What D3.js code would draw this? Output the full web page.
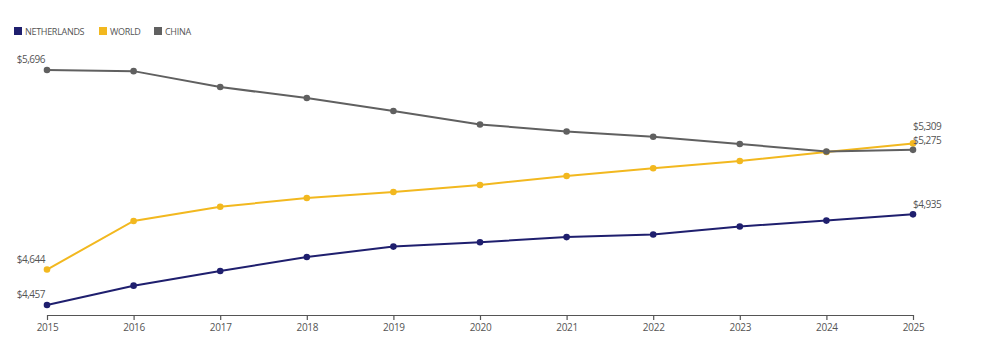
<!DOCTYPE html>
<html>
<head>
<meta charset="utf-8">
<script src="https://cdn.jsdelivr.net/npm/d3@7"></script>
<style>
  html, body { margin: 0; padding: 0; background: #fff; }
  svg { display: block; font-family: "Open Sans", "Noto Sans", sans-serif; }
</style>
</head>
<body>
<svg id="chart" width="1000" height="360"></svg>
<script>
const years = [2015, 2016, 2017, 2018, 2019, 2020, 2021, 2022, 2023, 2024, 2025];
const seriesNames = ["NETHERLANDS", "WORLD", "CHINA"];
const netherlands = [4457, 4559, 4636, 4710, 4765, 4788, 4815, 4829, 4871, 4902, 4935];
const world = [4644, 4900, 4975, 5021, 5053, 5090, 5137, 5178, 5216, 5264, 5309];
const china = [5696, 5690, 5606, 5548, 5480, 5409, 5372, 5344, 5306, 5266, 5275];
const colors = ["#1f1f6e", "#f2b81f", "#606060"];

const series = [
  { name: seriesNames[0], values: netherlands, color: colors[0] },
  { name: seriesNames[1], values: world, color: colors[1] },
  { name: seriesNames[2], values: china, color: colors[2] }
];

const svg = d3.select("#chart");
const x = d3.scalePoint().domain(years).range([47, 913]);
const y = d3.scaleLinear().domain([4457, 5696]).range([305, 70]);

// Axis
const axis = d3.axisBottom(x).tickSizeInner(5).tickSizeOuter(0).tickPadding(4);
const gAxis = svg.append("g").attr("transform", "translate(0,315)").call(axis);
gAxis.select(".domain").attr("stroke", "#555").attr("stroke-width", 1.2);
gAxis.selectAll(".tick line").attr("stroke", "#555").attr("stroke-width", 1.2);
gAxis.selectAll(".tick text").attr("fill", "#555").attr("font-size", 10)
  .attr("font-family", "'Open Sans', sans-serif").attr("letter-spacing", -0.3);

const fmt = v => "$" + d3.format(",")(v);

// Lines
const line = d3.line().x((d, i) => x(years[i])).y(d => y(d));
series.forEach(s => {
  svg.append("path").datum(s.values).attr("d", line)
    .attr("fill", "none").attr("stroke", s.color).attr("stroke-width", 2);
  svg.append("g").selectAll("circle").data(s.values).join("circle")
    .attr("cx", (d, i) => x(years[i])).attr("cy", d => y(d)).attr("r", 3.3)
    .attr("fill", s.color);
});

// End labels
series.forEach(s => {
  const first = s.values[0], last = s.values[s.values.length - 1];
  svg.append("text").attr("x", x(years[0]) - 2).attr("y", y(first) - 7)
    .attr("text-anchor", "end").attr("fill", "#555").attr("font-size", 10)
    .attr("letter-spacing", -0.5)
    .text(fmt(first));
  const dyEnd = s.name === "WORLD" ? -13 : -6;
  svg.append("text").attr("x", x(years[years.length - 1])).attr("y", y(last) + dyEnd)
    .attr("text-anchor", "start").attr("fill", "#555").attr("font-size", 10)
    .attr("letter-spacing", -0.5)
    .text(fmt(last));
});

// Legend
const legendX = [14, 99, 154];
const lg = svg.append("g");
series.forEach((s, i) => {
  lg.append("rect").attr("x", legendX[i]).attr("y", 27).attr("width", 8).attr("height", 8).attr("fill", s.color);
  lg.append("text").attr("x", legendX[i] + 11).attr("y", 34.5).attr("fill", "#555")
    .attr("font-size", 9).attr("letter-spacing", -0.3).text(s.name);
});
</script>
</body>
</html>
